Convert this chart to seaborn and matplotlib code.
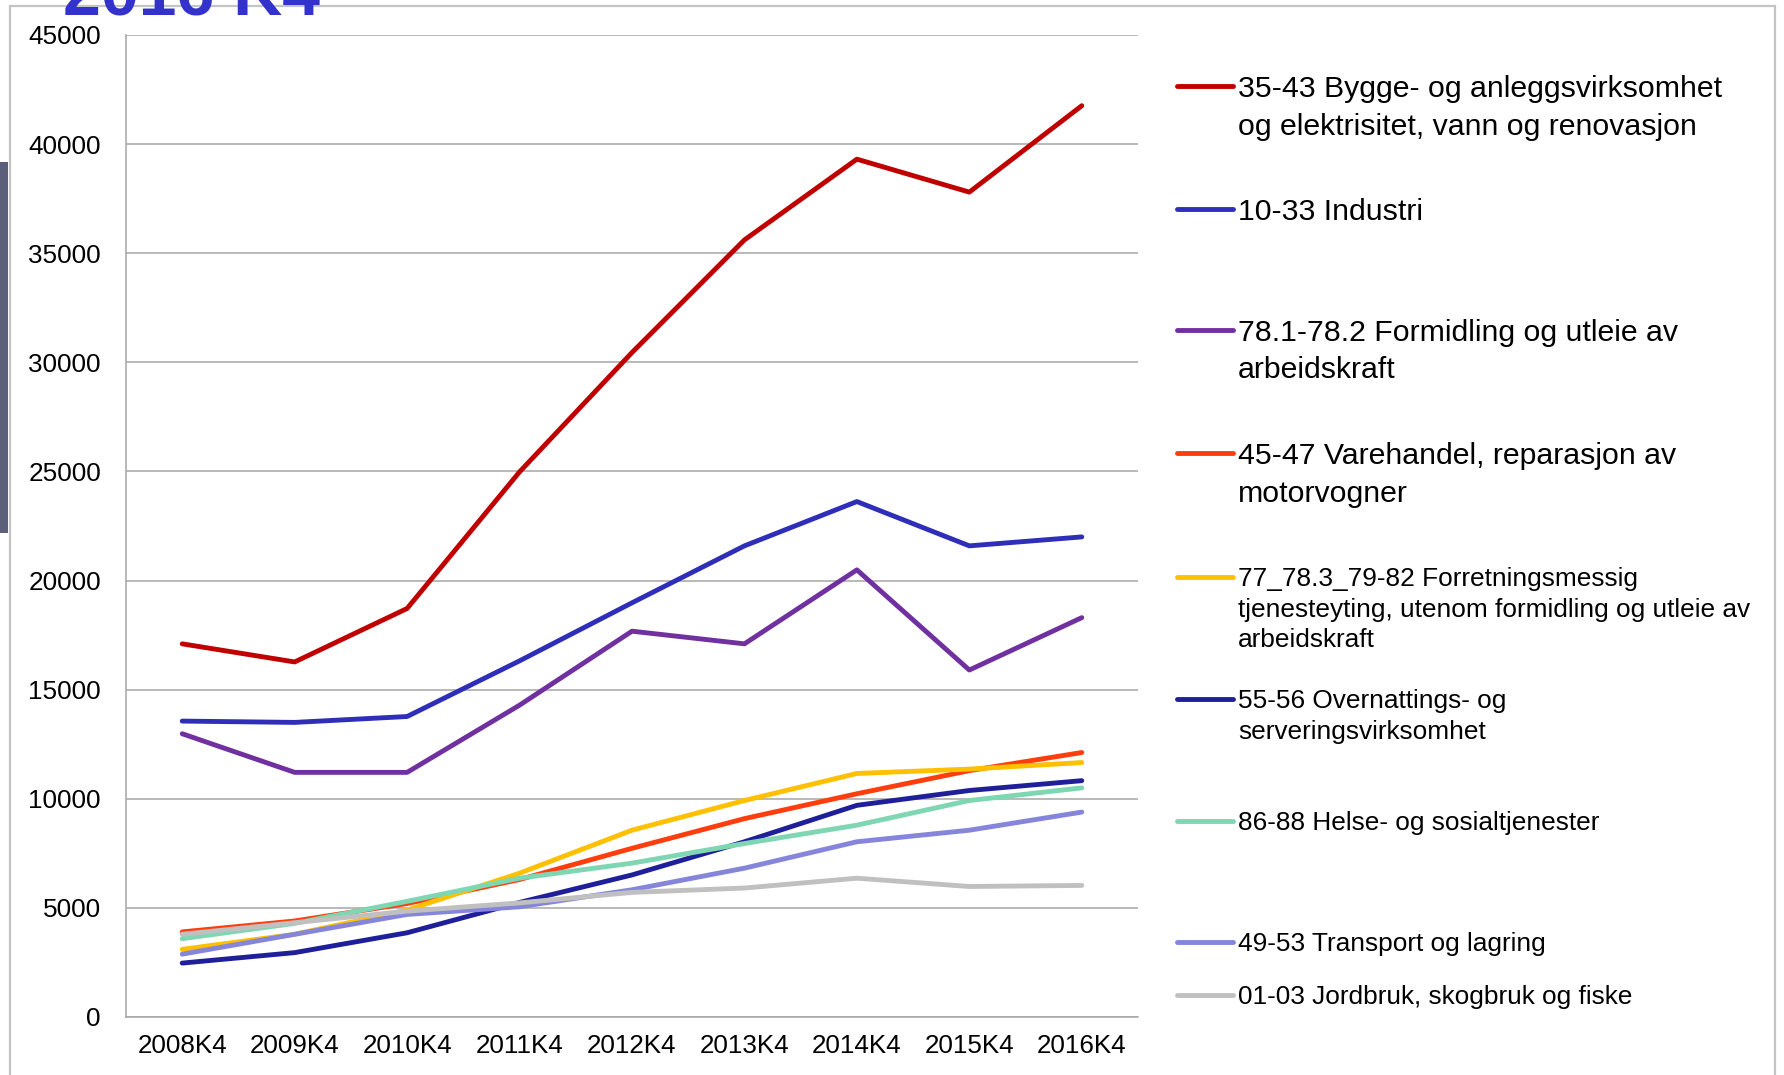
import numpy as np
import pandas as pd
import matplotlib
matplotlib.use("Agg")
import matplotlib.pyplot as plt
import seaborn as sns
from matplotlib.patches import Rectangle

# ---------------- data ----------------
quarters = ["2008K4", "2009K4", "2010K4", "2011K4", "2012K4",
            "2013K4", "2014K4", "2015K4", "2016K4"]

bygg = [17100, 16270, 18720, 24980, 30450, 35610, 39310, 37800, 41760]
industri = [13560, 13500, 13770, 16320, 18980, 21590, 23620, 21590, 22000]
formidling = [12980, 11210, 11210, 14290, 17680, 17100, 20490, 15900, 18300]
varehandel = [3900, 4400, 5200, 6300, 7730, 9090, 10230, 11290, 12120]
forretning = [3100, 3790, 4900, 6590, 8560, 9920, 11160, 11360, 11660]
overnatting = [2470, 2950, 3860, 5250, 6510, 8030, 9700, 10380, 10830]
helse = [3590, 4290, 5300, 6360, 7050, 7950, 8790, 9920, 10500]
transport = [2880, 3790, 4700, 5050, 5830, 6820, 8030, 8560, 9390]
jordbruk = [3790, 4320, 4850, 5230, 5710, 5910, 6360, 5980, 6030]

series_names = [
    "35-43 Bygge- og anleggsvirksomhet\nog elektrisitet, vann og renovasjon",
    "10-33 Industri",
    "78.1-78.2 Formidling og utleie av\narbeidskraft",
    "45-47 Varehandel, reparasjon av\nmotorvogner",
    "77_78.3_79-82 Forretningsmessig\ntjenesteyting, utenom formidling og utleie av\narbeidskraft",
    "55-56 Overnattings- og\nserveringsvirksomhet",
    "86-88 Helse- og sosialtjenester",
    "49-53 Transport og lagring",
    "01-03 Jordbruk, skogbruk og fiske",
]
series_values = [bygg, industri, formidling, varehandel, forretning,
                 overnatting, helse, transport, jordbruk]
colors = ["#C00000", "#2E2EB8", "#7030A0", "#FF3D0D", "#FFC000",
          "#1F1F99", "#7ED6B2", "#8585DB", "#C0C0C0"]

df = pd.DataFrame({
    "kvartal": np.tile(quarters, len(series_names)),
    "verdi": np.concatenate([np.asarray(v, float) for v in series_values]),
    "serie": np.repeat(series_names, len(quarters)),
})

# ---------------- style ----------------
sns.set_theme(style="white")
plt.rcParams["font.family"] = ["Liberation Sans", "DejaVu Sans"]
plt.rcParams["text.color"] = "black"

W, H = 1784, 1075
fig = plt.figure(figsize=(W / 100, H / 100), dpi=100)
fig.patch.set_facecolor("white")

def fx(px):
    return px / W

def fy(py):
    return 1 - py / H

ax_left, ax_right, ax_top, ax_bottom = 126, 1138, 35, 1017
ax = fig.add_axes([fx(ax_left), fy(ax_bottom), fx(ax_right - ax_left),
                   (ax_bottom - ax_top) / H])

sns.lineplot(data=df, x="kvartal", y="verdi", hue="serie",
             hue_order=series_names, palette=colors, linewidth=3.5,
             legend=False, ax=ax, sort=False)

grid_col = "#A6A6A6"
ax.set_xlim(-0.5, len(quarters) - 0.5)
ax.set_ylim(0, 45000)
ax.set_yticks(np.arange(0, 45001, 5000))
ax.set_yticklabels([str(v) for v in range(0, 45001, 5000)], fontsize=18.8,
                   color="black")
ax.set_xticks(range(len(quarters)))
ax.set_xticklabels(quarters, fontsize=18.7, color="black")
ax.set_xticks(np.arange(-0.5, len(quarters), 1.0), minor=True)
ax.tick_params(axis="x", which="major", length=0, pad=12)
ax.tick_params(axis="x", which="minor", length=6, width=1.1, color=grid_col,
               direction="out")
ax.tick_params(axis="y", which="major", length=6, width=1.1, color=grid_col,
               direction="out", pad=12)
ax.yaxis.grid(True, color=grid_col, linewidth=1.1)
ax.xaxis.grid(False)
ax.set_axisbelow(True)
for s in ["top", "right"]:
    ax.spines[s].set_visible(False)
for s in ["left", "bottom"]:
    ax.spines[s].set_color(grid_col)
    ax.spines[s].set_linewidth(1.1)
ax.set_xlabel("")
ax.set_ylabel("")

# ---------------- frame / decorations ----------------
fig.patches.append(Rectangle((fx(10), fy(H + 20)), fx(1775 - 10), (H + 20 - 6) / H,
                             transform=fig.transFigure, fill=False,
                             edgecolor="#C4C4C4", linewidth=1.6, zorder=0))
fig.patches.append(Rectangle((0, fy(533)), fx(8), (533 - 162) / H,
                             transform=fig.transFigure, facecolor="#5B5F7A",
                             edgecolor="none", zorder=0))
fig.text(fx(63), fy(16), "2016 K4", fontsize=49, fontweight="bold",
         color="#3333CC", ha="left", va="baseline")

# ---------------- legend ----------------
lines = ax.get_lines()[:len(series_names)]
legend_y = [89, 212, 333, 456, 579, 701, 823, 944, 997]
big = [True, True, True, True, False, False, False, False, False]
text_x = 1238
for i, name in enumerate(series_names):
    parts = name.split("\n")
    fs = 21.8 if big[i] else 18.9
    em = fs * 100 / 72
    spacing = 37.5 if big[i] else 30.5
    leg = fig.legend(handles=[lines[i]], labels=[parts[0]],
                     loc="center left",
                     bbox_to_anchor=(fx(1177), fy(legend_y[i])),
                     bbox_transform=fig.transFigure, frameon=False,
                     borderpad=0, borderaxespad=0, fontsize=fs,
                     handlelength=56 / em, handletextpad=5 / em,
                     labelcolor="black")
    for k, extra in enumerate(parts[1:], start=1):
        fig.text(fx(text_x), fy(legend_y[i] + k * spacing), extra,
                 fontsize=fs, ha="left", va="center", color="black")

fig.savefig("out.png", dpi=100, facecolor="white")
